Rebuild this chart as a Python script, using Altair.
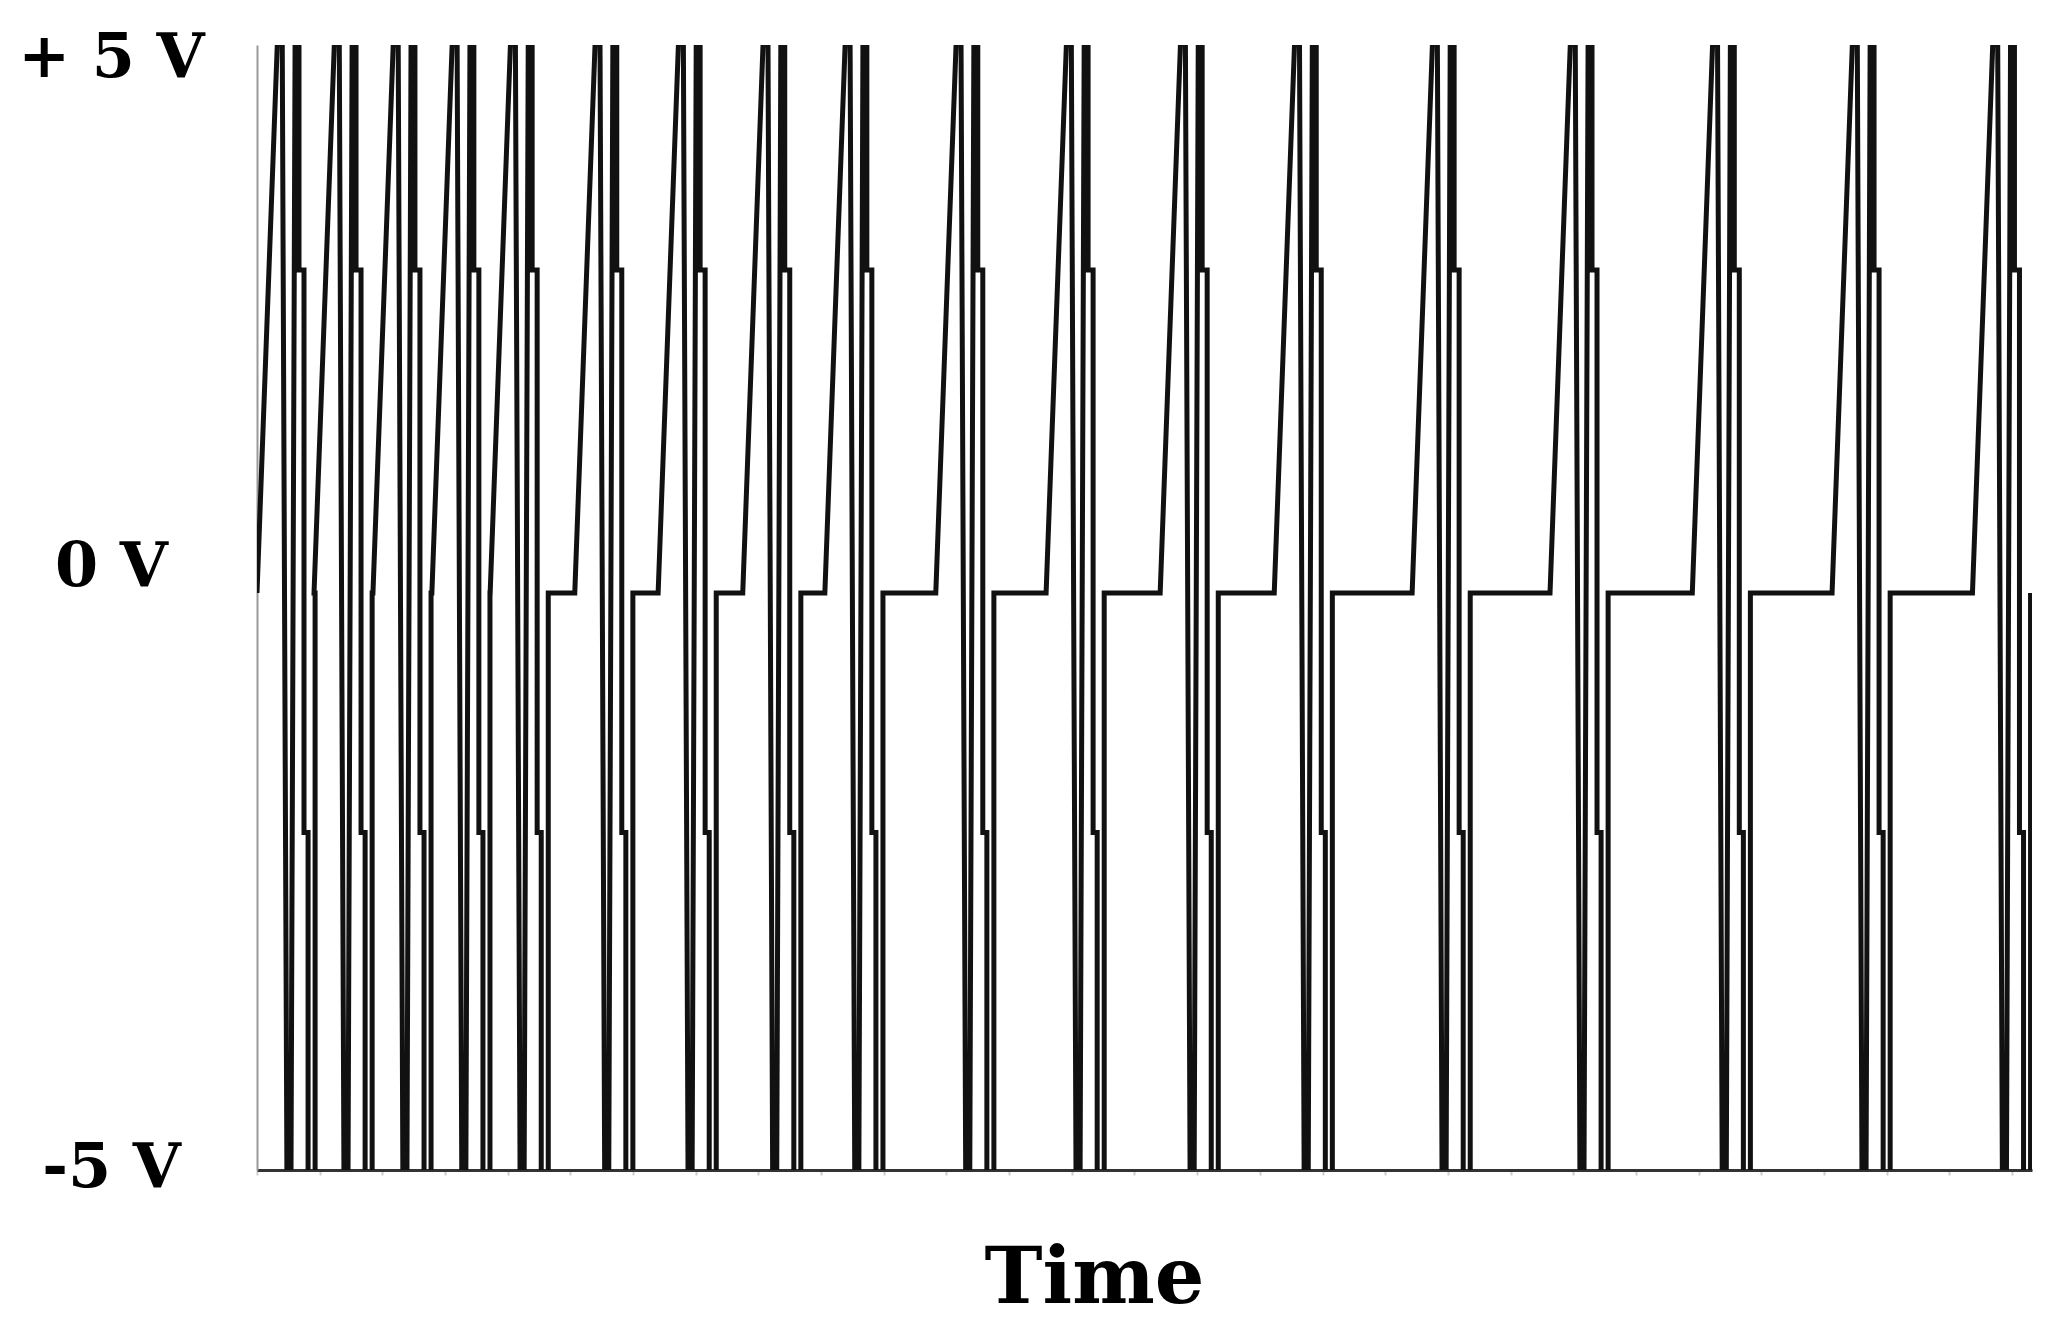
import altair as alt
import pandas as pd

# Times (in axis-tick units) at which each spike reaches the top of the plot
spike_times = [0.40, 1.31, 2.25, 3.19, 4.12, 5.47, 6.80, 8.15, 9.46, 11.23,
               12.99, 14.81, 16.63, 18.83, 21.03, 23.30, 25.53, 27.77]

# Shape of one spike (time offset from the spike time, voltage)
rest_level = 0.13
shape_dt = [-0.40, -0.05, 0.00, 0.08, 0.14, 0.21, 0.27, 0.27, 0.35, 0.35, 0.415, 0.415, 0.527, 0.527]
shape_v = [rest_level, 5.4, 5.4, -5.4, -5.4, 5.4, 5.4, 3.0, 3.0, -2.0, -2.0, -5.4, -5.4, rest_level]

y_ticks = [5, 0, -5]
x_ticks = list(range(0, 29))

rows = []
i = 0
for t in spike_times:
    for dt, v in zip(shape_dt, shape_v):
        rows.append({"t": t + dt, "v": v, "i": i})
        i += 1
df = pd.DataFrame(rows)

line = alt.Chart(df).mark_line(
    color="#111111", strokeWidth=5, clip=True, strokeJoin="miter"
).encode(
    x=alt.X("t:Q",
            scale=alt.Scale(domain=[0, 28.32], nice=False, zero=False),
            axis=alt.Axis(
                title="Time", values=x_ticks, labels=False, grid=False,
                domainColor="#333333", domainWidth=3,
                tickColor="#cccccc", tickSize=5, tickWidth=2,
                titleFont="DejaVu Serif", titleFontWeight="bold", titleFontSize=78,
                titleColor="#000000", titleX=837, titleY=132,
                titleBaseline="alphabetic", titleAlign="center")),
    y=alt.Y("v:Q",
            scale=alt.Scale(domain=[-5, 5], nice=False, zero=False),
            axis=alt.Axis(
                title=None, values=y_ticks, grid=False, ticks=False, tickSize=0,
                labelExpr="datum.value > 0 ? '+ 5 V' : (datum.value < 0 ? '-5 V' : '0 V')",
                labelFont="DejaVu Serif", labelFontWeight="bold", labelFontSize=62,
                labelColor="#000000", labelAlign="center", labelBaseline="middle",
                labelPadding=146, labelLimit=500,
                labelOffset={"condition": [
                    {"test": "datum.value == 0", "value": -41},
                    {"test": "datum.value > 0", "value": 12}], "value": -3},
                domainColor="#999999", domainWidth=2)),
    order="i:Q",
).properties(
    width=1775, height=1125,
    autosize=alt.AutoSizeParams(type="none"),
    padding={"left": 249, "top": 37, "right": 10, "bottom": 155},
    background="white",
).configure_view(stroke=None)

line.save("out.html", embed_options={"renderer": "svg", "actions": False})
